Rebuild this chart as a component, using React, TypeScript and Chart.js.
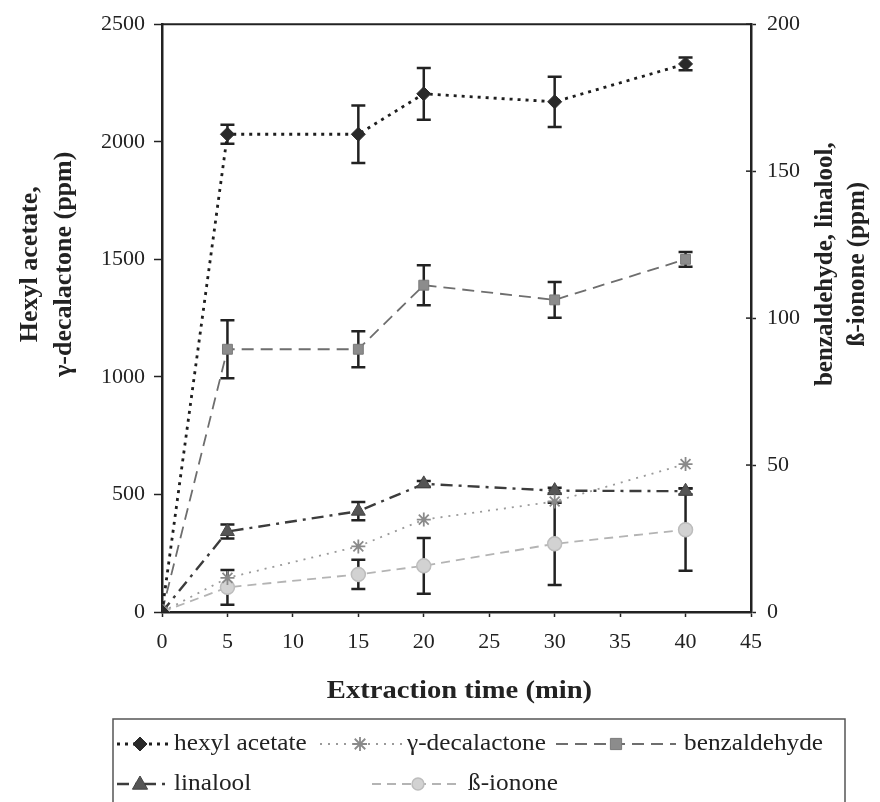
import React, { useEffect, useRef } from 'react';
import { Chart, registerables } from 'chart.js';

Chart.register(...registerables);

// ---- data ----
const times = [0, 5, 15, 20, 30, 40];
const xTicks = [0, 5, 10, 15, 20, 25, 30, 35, 40, 45];
const leftTicks = [0, 500, 1000, 1500, 2000, 2500];
const rightTicks = [0, 50, 100, 150, 200];

const hexylAcetate = [0, 2032, 2032, 2204, 2170, 2331];
const hexylAcetateErr = [0, 40, 122, 110, 107, 27];
const gammaDecalactone = [0, 145, 279, 393, 470, 629];
const gammaDecalactoneErr = [0, 0, 0, 0, 0, 0];
const benzaldehyde = [0, 89.4, 89.4, 111.2, 106.2, 120.0];
const benzaldehydeErr = [0, 9.9, 6.1, 6.8, 6.1, 2.5];
const linalool = [0, 27.4, 34.3, 43.6, 41.3, 41.1];
const linaloolErr = [0, 2.4, 3.1, 1.0, 1.0, 1.0];
const betaIonone = [0, 8.4, 12.8, 15.7, 23.2, 28.0];
const betaIononeErr = [0, 5.9, 5.0, 9.5, 14.0, 14.0];

const seriesNames = ['hexyl acetate', 'γ-decalactone', 'benzaldehyde', 'linalool', 'ß-ionone'];
const xTitle = 'Extraction time (min)';
const leftTitle = ['Hexyl acetate,', 'γ-decalactone (ppm)'];
const rightTitle = ['benzaldehyde, linalool,', 'ß-ionone (ppm)'];

const FONT = '"Liberation Serif", "Times New Roman", serif';
const INK = '#222';
const STRETCH = 1.1;

function drawMarker(ctx: CanvasRenderingContext2D, style: string, x: number, y: number, r: number, fill: string, stroke: string, lw: number) {
  ctx.save();
  ctx.fillStyle = fill;
  ctx.strokeStyle = stroke;
  ctx.lineWidth = lw;
  ctx.setLineDash([]);
  ctx.beginPath();
  if (style === 'rectRot') {
    ctx.moveTo(x, y - r); ctx.lineTo(x + r, y); ctx.lineTo(x, y + r); ctx.lineTo(x - r, y); ctx.closePath();
    ctx.fill(); ctx.stroke();
  } else if (style === 'rect') {
    ctx.rect(x - r * 0.8, y - r * 0.8, r * 1.6, r * 1.6); ctx.fill(); ctx.stroke();
  } else if (style === 'triangle') {
    ctx.moveTo(x, y - r); ctx.lineTo(x + r * 0.95, y + r * 0.65); ctx.lineTo(x - r * 0.95, y + r * 0.65); ctx.closePath();
    ctx.fill(); ctx.stroke();
  } else if (style === 'circle') {
    ctx.arc(x, y, r * 0.85, 0, Math.PI * 2); ctx.fill(); ctx.stroke();
  } else if (style === 'star') {
    const d = r * 0.75;
    ctx.moveTo(x - d, y - d); ctx.lineTo(x + d, y + d);
    ctx.moveTo(x + d, y - d); ctx.lineTo(x - d, y + d);
    ctx.moveTo(x - r, y); ctx.lineTo(x + r, y);
    ctx.moveTo(x, y - r); ctx.lineTo(x, y + r);
    ctx.stroke();
  }
  ctx.restore();
}

function stretchedText(ctx: CanvasRenderingContext2D, text: string, x: number, y: number, align: 'left' | 'center') {
  ctx.save();
  ctx.translate(x, y);
  ctx.scale(STRETCH, 1);
  ctx.textAlign = align;
  ctx.fillText(text, 0, 0);
  ctx.restore();
}

const errorBarsPlugin = {
  id: 'errorBars',
  beforeDatasetsDraw(chart: any) {
    const ctx = chart.ctx as CanvasRenderingContext2D;
    ctx.save();
    ctx.strokeStyle = INK;
    ctx.lineWidth = 2.5;
    ctx.setLineDash([]);
    chart.data.datasets.forEach((ds: any) => {
      const errs: number[] = ds.errors;
      if (!errs) return;
      const ys = chart.scales[ds.yAxisID];
      const xs = chart.scales.x;
      ds.data.forEach((pt: any, j: number) => {
        const e = errs[j];
        if (!e) return;
        const x = xs.getPixelForValue(pt.x);
        const yt = ys.getPixelForValue(pt.y + e);
        const yb = ys.getPixelForValue(pt.y - e);
        ctx.beginPath();
        ctx.moveTo(x, yt); ctx.lineTo(x, yb);
        ctx.moveTo(x - 7, yt); ctx.lineTo(x + 7, yt);
        ctx.moveTo(x - 7, yb); ctx.lineTo(x + 7, yb);
        ctx.stroke();
      });
    });
    ctx.restore();
  },
};

const decorPlugin = {
  id: 'decor',
  afterDraw(chart: any) {
    const ctx = chart.ctx as CanvasRenderingContext2D;
    const a = chart.chartArea;
    ctx.save();
    // top frame line
    ctx.strokeStyle = INK;
    ctx.lineWidth = 2;
    ctx.beginPath();
    ctx.moveTo(a.left, a.top); ctx.lineTo(a.right, a.top);
    ctx.stroke();
    // inward half of right ticks
    ctx.lineWidth = 1.5;
    const y2 = chart.scales.y2;
    rightTicks.forEach((v) => {
      const y = y2.getPixelForValue(v);
      ctx.beginPath(); ctx.moveTo(a.right - 5, y); ctx.lineTo(a.right, y); ctx.stroke();
    });
    // titles
    ctx.fillStyle = INK;
    ctx.textBaseline = 'middle';
    ctx.font = `bold 26px ${FONT}`;
    stretchedText(ctx, xTitle, (a.left + a.right) / 2 + 3, a.bottom + 79, 'center');
    ctx.textAlign = 'center';
    const cy = a.top + 240;
    [30, 64].forEach((x, i) => {
      ctx.save(); ctx.translate(x, cy); ctx.rotate(-Math.PI / 2);
      ctx.fillText(leftTitle[i], 0, 0); ctx.restore();
    });
    ctx.font = `bold 25px ${FONT}`;
    [826, 858].forEach((x, i) => {
      ctx.save(); ctx.translate(x, cy); ctx.rotate(-Math.PI / 2);
      ctx.fillText(rightTitle[i], 0, 0); ctx.restore();
    });
    // legend box
    ctx.strokeStyle = '#555';
    ctx.lineWidth = 1.5;
    ctx.beginPath();
    ctx.moveTo(113, 803); ctx.lineTo(113, 719); ctx.lineTo(845, 719); ctx.lineTo(845, 803);
    ctx.stroke();
    const items = [
      { i: 0, x1: 117, x2: 170, mx: 140, tx: 174, y: 744 },
      { i: 1, x1: 320, x2: 402, mx: 360, tx: 407, y: 744 },
      { i: 2, x1: 556, x2: 676, mx: 616, tx: 684, y: 744 },
      { i: 3, x1: 117, x2: 170, mx: 140, tx: 174, y: 784 },
      { i: 4, x1: 372, x2: 462, mx: 418, tx: 468, y: 784 },
    ];
    items.forEach((it) => {
      const ds = chart.data.datasets[it.i];
      ctx.save();
      ctx.strokeStyle = ds.borderColor;
      ctx.lineWidth = ds.borderWidth;
      ctx.setLineDash(ds.borderDash || []);
      ctx.beginPath(); ctx.moveTo(it.x1, it.y); ctx.lineTo(it.x2, it.y); ctx.stroke();
      ctx.restore();
      drawMarker(ctx, ds.pointStyle, it.mx, it.y, ds.pointRadius, ds.pointBackgroundColor, ds.pointBorderColor, ds.pointBorderWidth);
      ctx.fillStyle = INK;
      ctx.font = `23px ${FONT}`;
      stretchedText(ctx, seriesNames[it.i], it.tx, it.y, 'left');
    });
    ctx.restore();
  },
};

function pts(v: number[]) {
  return times.map((t, i) => ({ x: t, y: v[i] }));
}

const plain = (v: any) => String(v);

export default function App() {
  const ref = useRef<HTMLCanvasElement | null>(null);
  useEffect(() => {
    document.body.style.margin = '0';
    const canvas = ref.current!;
    const tickFont = { family: FONT, size: 22 };
    const chart = new Chart(canvas, {
      type: 'line',
      data: {
        datasets: [
          {
            label: seriesNames[0], data: pts(hexylAcetate), errors: hexylAcetateErr, yAxisID: 'y',
            borderColor: '#1e1e1e', borderWidth: 2.8, borderDash: [3, 5],
            pointStyle: 'rectRot', pointRadius: 7, pointBackgroundColor: '#2a2a2a', pointBorderColor: '#2a2a2a', pointBorderWidth: 1,
          },
          {
            label: seriesNames[1], data: pts(gammaDecalactone), errors: gammaDecalactoneErr, yAxisID: 'y',
            borderColor: '#9a9a9a', borderWidth: 1.8, borderDash: [2, 6],
            pointStyle: 'star', pointRadius: 7, pointBackgroundColor: '#999', pointBorderColor: '#8a8a8a', pointBorderWidth: 1.8,
          },
          {
            label: seriesNames[2], data: pts(benzaldehyde), errors: benzaldehydeErr, yAxisID: 'y2',
            borderColor: '#6e6e6e', borderWidth: 1.8, borderDash: [12, 7],
            pointStyle: 'rect', pointRadius: 7, pointBackgroundColor: '#8c8c8c', pointBorderColor: '#7a7a7a', pointBorderWidth: 1,
          },
          {
            label: seriesNames[3], data: pts(linalool), errors: linaloolErr, yAxisID: 'y2',
            borderColor: '#3c3c3c', borderWidth: 2.4, borderDash: [12, 6, 3, 6],
            pointStyle: 'triangle', pointRadius: 8, pointBackgroundColor: '#555', pointBorderColor: '#444', pointBorderWidth: 1,
          },
          {
            label: seriesNames[4], data: pts(betaIonone), errors: betaIononeErr, yAxisID: 'y2',
            borderColor: '#b4b4b4', borderWidth: 1.8, borderDash: [9, 6],
            pointStyle: 'circle', pointRadius: 7, pointBackgroundColor: '#d2d2d2', pointBorderColor: '#bdbdbd', pointBorderWidth: 1.5,
          },
        ] as any,
      },
      options: {
        responsive: false,
        animation: false,
        devicePixelRatio: 1,
        layout: { padding: { top: 21, bottom: 150, left: 0, right: 0 } },
        plugins: { legend: { display: false }, tooltip: { enabled: false } },
        elements: { line: { tension: 0 } },
        scales: {
          x: {
            type: 'linear', min: 0, max: 45,
            afterBuildTicks: (s: any) => { s.ticks = xTicks.map((v) => ({ value: v })); },
            ticks: { color: INK, font: tickFont, padding: 12, callback: plain },
            grid: { drawOnChartArea: false, tickLength: 5, tickColor: INK, tickWidth: 1.5 },
            border: { color: INK, width: 2.5 },
            afterFit: (s: any) => { s.height = 40; },
          },
          y: {
            position: 'left', min: 0, max: 2500,
            afterBuildTicks: (s: any) => { s.ticks = leftTicks.map((v) => ({ value: v })); },
            ticks: { color: INK, font: tickFont, padding: 9, callback: plain },
            grid: { drawOnChartArea: false, tickLength: 8, tickColor: INK, tickWidth: 1.5 },
            border: { color: INK, width: 2.5 },
            afterFit: (s: any) => { s.width = 162; },
          },
          y2: {
            position: 'right', min: 0, max: 200,
            afterBuildTicks: (s: any) => { s.ticks = rightTicks.map((v) => ({ value: v })); },
            ticks: { color: INK, font: tickFont, padding: 11, callback: plain },
            grid: { drawOnChartArea: false, tickLength: 5, tickColor: INK, tickWidth: 1.5 },
            border: { color: INK, width: 2.5 },
            afterFit: (s: any) => { s.width = 129; },
          },
        },
      } as any,
      plugins: [errorBarsPlugin, decorPlugin],
    });
    return () => chart.destroy();
  }, []);
  return (
    <div style={{ width: 880, height: 802, background: '#fff' }}>
      <canvas ref={ref} width={880} height={802} style={{ display: 'block' }} />
    </div>
  );
}
